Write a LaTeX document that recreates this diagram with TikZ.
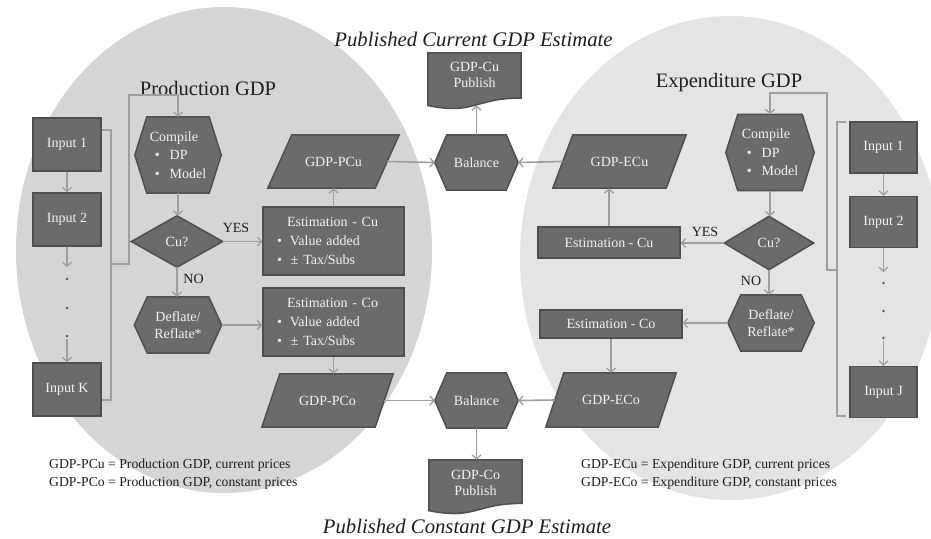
\documentclass[tikz,border=0pt]{standalone}
\usepackage{fontspec}
\setmainfont{Liberation Serif}
\usetikzlibrary{arrows.meta,calc}
\pgfdeclarelayer{bg}
\pgfdeclarelayer{shapes}
\pgfsetlayers{bg,shapes,main}
\definecolor{nfill}{HTML}{6B6B6B}
\definecolor{nline}{HTML}{4F4F4F}
\definecolor{ntext}{HTML}{F2F2F2}
\definecolor{lgray}{HTML}{D5D5D5}
\definecolor{rgray}{HTML}{E4E4E4}
\definecolor{conn}{HTML}{9E9E9E}
\definecolor{ink}{HTML}{1E1E1E}
\definecolor{dotc}{HTML}{555555}
\newcommand{\mkhex}[2]{\path[shp] (#1.west) -- ([xshift=#2]#1.north west) -- ([xshift=-#2]#1.north east) -- (#1.east) -- ([xshift=-#2]#1.south east) -- ([xshift=#2]#1.south west) -- cycle;}
\newcommand{\mkpara}[2]{\path[shp] ([xshift=#2]#1.north west) -- (#1.north east) -- ([xshift=-#2]#1.south east) -- (#1.south west) -- cycle;}
\newcommand{\mkdia}[1]{\path[shp] (#1.west) -- (#1.north) -- (#1.east) -- (#1.south) -- cycle;}
\newcommand{\mkdoc}[2]{\path[shp] (#1.north west) -- (#1.north east) -- ([yshift=0.2*#2]#1.south east) .. controls ([yshift=0.2*#2]#1.south) and ([yshift=-0.108*#2]#1.south) .. ([yshift=0.066*#2]#1.south west) -- cycle;}
\tikzset{
  box/.style={inner sep=0pt, text=ntext, font=\fontsize{14}{17}\selectfont, align=center},
  rectbox/.style={box, draw=nline, fill=nfill, line width=1.5pt},
  shp/.style={draw=nline, fill=nfill, line width=1.5pt},
  arr/.style={draw=conn, line width=1.6pt, -{Straight Barb[length=4pt,width=9pt,line width=1.3pt]}},
  ln/.style={draw=conn, line width=1.6pt},
  lbl/.style={text=ink, font=\fontsize{14}{17}\selectfont, inner sep=0pt},
  title/.style={text=ink, font=\fontsize{20.5}{24}\selectfont, inner sep=0pt, anchor=base},
  pub/.style={text=ink, font=\fontsize{20.7}{24}\selectfont\itshape, inner sep=0pt, anchor=base},
  legend/.style={text=ink, font=\fontsize{13.7}{17}\selectfont, inner sep=0pt, anchor=base west},
  dotm/.style={fill=dotc, draw=none},
}
\begin{document}
\begin{tikzpicture}[x=1pt,y=-1pt]
\useasboundingbox (0,0) rectangle (931,538);
\clip (0,0) rectangle (931,538);
\begin{pgfonlayer}{bg}
\fill[white] (0,0) rectangle (931,538);
\fill[lgray] (224,250) ellipse [x radius=208pt, y radius=243pt];
\fill[rgray] (730,258) ellipse [x radius=210pt, y radius=242pt];
\end{pgfonlayer}

% titles
\node[title] (tprod) at (208,95) {Production GDP};
\node[title] (texp) at (729,87) {Expenditure GDP};
\node[pub] (pubcur) at (473.5,46) {Published Current GDP Estimate};
\node[pub] (pubcon) at (467,533) {Published Constant GDP Estimate};

% ---------- left: production ----------
\node[rectbox, minimum width=68pt, minimum height=53pt] (in1L) at (67,144.5) {Input 1};
\node[rectbox, minimum width=68pt, minimum height=53pt] (in2L) at (67,219.5) {Input 2};
\node[rectbox, minimum width=68pt, minimum height=53pt] (inKL) at (67,389.5) {Input K};

\node[box, minimum width=86pt, minimum height=76pt, align=left, font=\fontsize{14}{18.5}\selectfont] (cmpL) at (178,155)
  {Compile\\\hspace*{5pt}\textbullet\hspace{10pt}DP\\\hspace*{5pt}\textbullet\hspace{10pt}Model};
\node[box, minimum width=91pt, minimum height=51pt] (cuL) at (177,241.5) {Cu?};
\node[box, minimum width=87pt, minimum height=56pt, font=\fontsize{14}{16.5}\selectfont] (defL) at (178,325) {Deflate/\\Reflate*};

\node[rectbox, minimum width=141pt, minimum height=68pt, text width=113pt, align=left, font=\fontsize{14}{19}\selectfont] (estcuL) at (333.5,241)
  {\hspace*{10pt}Estimation - Cu\\\textbullet\hspace{8pt}Value added\\\textbullet\hspace{9pt}± Tax/Subs};
\node[rectbox, minimum width=141pt, minimum height=68pt, text width=113pt, align=left, font=\fontsize{14}{19}\selectfont] (estcoL) at (333.5,322)
  {\hspace*{10pt}Estimation - Co\\\textbullet\hspace{8pt}Value added\\\textbullet\hspace{9pt}± Tax/Subs};

\node[box, minimum width=131pt, minimum height=53pt] (pcu) at (333.5,161.5) {GDP-PCu};
\node[box, minimum width=131pt, minimum height=53pt] (pco) at (327.5,400.5) {GDP-PCo};

% ---------- centre ----------
\node[box, minimum width=83pt, minimum height=55pt] (balT) at (476.5,162.5) {Balance};
\node[box, minimum width=83pt, minimum height=55pt] (balB) at (476.5,400.5) {Balance};
\node[box, minimum width=93pt, minimum height=56pt] (pub1) at (474.5,81) {};
\node[box, font=\fontsize{14}{16.5}\selectfont] (pub1t) at (474.5,75) {GDP-Cu\\Publish};
\node[box, minimum width=93pt, minimum height=54pt] (pub2) at (475.5,487) {};
\node[box, font=\fontsize{14}{16.5}\selectfont] (pub2t) at (475.5,483) {GDP-Co\\Publish};

% ---------- right: expenditure ----------
\node[box, minimum width=133pt, minimum height=53pt] (ecu) at (619.5,161.5) {GDP-ECu};
\node[box, minimum width=130pt, minimum height=54pt] (eco) at (611,400) {GDP-ECo};
\node[rectbox, minimum width=142pt, minimum height=31pt] (estcuR) at (609,242.5) {Estimation - Cu};
\node[rectbox, minimum width=142pt, minimum height=28pt] (estcoR) at (611,324) {Estimation - Co};

\node[box, minimum width=88pt, minimum height=76pt, align=left, font=\fontsize{14}{18.5}\selectfont] (cmpR) at (770,152.5)
  {Compile\\\hspace*{5pt}\textbullet\hspace{10pt}DP\\\hspace*{5pt}\textbullet\hspace{10pt}Model};
\node[box, minimum width=89pt, minimum height=53pt] (cuR) at (769,243) {Cu?};
\node[box, minimum width=86pt, minimum height=56pt, font=\fontsize{14}{16.5}\selectfont] (defR) at (771,323) {Deflate/\\Reflate*};

\node[rectbox, minimum width=67pt, minimum height=51pt] (in1R) at (883.5,147.5) {Input 1};
\node[rectbox, minimum width=67pt, minimum height=51pt] (in2R) at (883.5,222) {Input 2};
\node[rectbox, minimum width=67pt, minimum height=51pt] (inJR) at (883.5,392) {Input J};

% ---------- shapes ----------
\begin{pgfonlayer}{shapes}
\mkhex{cmpL}{12pt}
\mkdia{cuL}
\mkhex{defL}{13pt}
\mkpara{pcu}{24pt}
\mkpara{pco}{18pt}
\mkhex{balT}{12pt}
\mkhex{balB}{12pt}
\mkdoc{pub1}{56pt}
\mkdoc{pub2}{54pt}
\mkpara{ecu}{20pt}
\mkpara{eco}{18pt}
\mkhex{cmpR}{12pt}
\mkdia{cuR}
\mkhex{defR}{13pt}
\end{pgfonlayer}

% ---------- free coordinates ----------
\coordinate (l2end) at (67,267);
\coordinate (lKstart) at (67,339);
\coordinate (brLt) at (111,130);
\coordinate (brLb) at (111,400);
\coordinate (brLm) at (111,264);
\coordinate (jL1) at (129,264);
\coordinate (jL2) at (129,95);
\coordinate (r2end) at (883.5,272);
\coordinate (rJstart) at (883.5,341);
\coordinate (brRt) at (837,122);
\coordinate (brRb) at (837,416);
\coordinate (brRm) at (837,270);
\coordinate (jR1) at (827,270);
\coordinate (jR2) at (827,93);

% ---------- left connectors ----------
\draw[arr] (in1L.south) -- (in2L.north);
\draw[arr] (in2L.south) -- (l2end);
\fill[dotm] (67,279) circle (1.3pt) (67,308) circle (1.3pt) (67,336) circle (1.3pt);
\draw[arr] (lKstart) -- (inKL.north);
\draw[ln] (in1L.east |- brLt) -- (brLt) -- (brLb) -- (inKL.east |- brLb);
\draw[arr] (brLm) -- (jL1) -- (jL2) -- (jL2 -| cmpL.north) -- (cmpL.north);
\draw[arr] (cmpL.south) -- (cmpL.south |- cuL.north);
\draw[arr] (cuL.east) -- (cuL.east -| estcuL.west);
\draw[arr] (cuL.south) -- (cuL.south |- defL.north);
\draw[arr] (defL.east) -- (defL.east -| estcoL.west);
\draw[arr] (estcuL.north) -- (estcuL.north |- pcu.south);
\draw[arr] (estcoL.south) -- (estcoL.south |- pco.north);
\node[lbl] (yesL) at (236,228) {YES};
\node[lbl] (noL) at (193.5,279) {NO};

% ---------- centre connectors ----------
\draw[arr] ([xshift=-12pt]pcu.east) -- (balT.west);
\draw[arr] ([xshift=-9pt]pco.east) -- (balB.west);
\draw[arr] (balT.north) -- ([yshift=4pt]pub1.south -| balT.north);
\draw[arr] (balB.south) -- (balB.south |- pub2.north);
\draw[arr] ([xshift=10pt]ecu.west) -- (balT.east);
\draw[arr] ([xshift=9pt]eco.west) -- (balB.east);

% ---------- right connectors ----------
\draw[arr] (estcuR.north) -- (estcuR.north |- ecu.south);
\draw[arr] (cuR.west) -- (cuR.west -| estcuR.east);
\draw[arr] (cmpR.south) -- (cmpR.south |- cuR.north);
\draw[arr] (cuR.south) -- (cuR.south |- defR.north);
\draw[arr] (defR.west) -- (defR.west -| estcoR.east);
\draw[arr] (estcoR.south) -- (estcoR.south |- eco.north);
\node[lbl] (yesR) at (705,232) {YES};
\node[lbl] (noR) at (751,281) {NO};

\draw[arr] (in1R.south) -- (in2R.north);
\draw[arr] (in2R.south) -- (r2end);
\fill[dotm] (883.5,283) circle (1.3pt) (883.5,311) circle (1.3pt) (883.5,338) circle (1.3pt);
\draw[arr] (rJstart) -- (inJR.north);
\draw[ln] ([xshift=9pt]brRt) -- (brRt) -- (brRb) -- ([xshift=9pt]brRb);
\draw[arr] (brRm) -- (jR1) -- (jR2) -- (jR2 -| cmpR.north) -- (cmpR.north);

% ---------- legends ----------
\node[legend] (legL1) at (49,468) {GDP-PCu = Production GDP, current prices};
\node[legend] (legL2) at (49,486) {GDP-PCo = Production GDP, constant prices};
\node[legend] (legR1) at (581,468) {GDP-ECu = Expenditure GDP, current prices};
\node[legend] (legR2) at (581,486) {GDP-ECo = Expenditure GDP, constant prices};
\end{tikzpicture}
\end{document}
